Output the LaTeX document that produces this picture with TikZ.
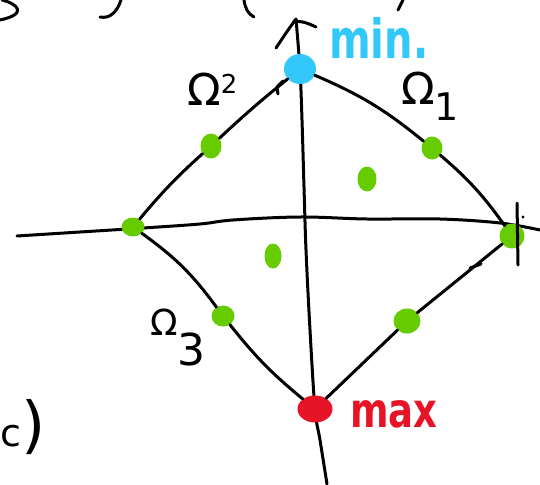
\documentclass[tikz,border=0pt]{standalone}
\usepackage{graphicx}
\usepackage{fontspec}
\setmainfont{DejaVu Sans}
\usetikzlibrary{shapes.geometric}
\definecolor{cyanmin}{RGB}{51,200,250}
\definecolor{dotgreen}{RGB}{102,204,0}
\definecolor{maxred}{RGB}{230,20,38}
\begin{document}
\begin{tikzpicture}[x=1pt,y=-1pt,line cap=round,line join=round,
  pen/.style={line width=3pt,draw=black},
  gdot/.style={ellipse,fill=dotgreen,inner sep=0pt},
  bdot/.style={ellipse,fill=cyanmin,inner sep=0pt},
  rdot/.style={ellipse,fill=maxred,inner sep=0pt},
  lbl/.style={anchor=base west,inner sep=0pt}]
\useasboundingbox (0,0) rectangle (540,484);
% axes
\coordinate (ytip) at (296,19);
\coordinate (ybot) at (327,484);
\coordinate (xl) at (17,236);
\coordinate (xr) at (540,230);
\draw[pen] plot[smooth,tension=0.6] coordinates {(xl) (80,232) (143,228) (200,224) (233,220) (300,217) (367,219) (440,219) (500,223) (xr)};
\draw[pen] plot[smooth,tension=0.6] coordinates {(ybot) (320,440) (315,409) (310,330) (306,250) (304,187) (302,120) (300,70) (ytip)};
\coordinate (wl) at (276,48);
\coordinate (wr) at (316,27);
\draw[pen] (ytip) .. controls (288,30) .. (wl);
\draw[pen] (294,21) .. controls (305,22) .. (wr);
% dots
\node[bdot,minimum width=32pt,minimum height=30pt] (T) at (300,69) {};
\node[gdot,minimum width=25pt,minimum height=25pt] (R) at (512,236) {};
\node[gdot,minimum width=23pt,minimum height=19pt] (L) at (133,227) {};
\node[rdot,minimum width=35pt,minimum height=27pt] (B) at (315,409) {};
\node[gdot,minimum width=21pt,minimum height=25pt] (d2) at (211,146) {};
\node[gdot,minimum width=21pt,minimum height=23pt] (d1) at (432,148) {};
\node[gdot,minimum width=23pt,minimum height=21pt] (d3) at (223,316) {};
\node[gdot,minimum width=27pt,minimum height=25pt] (d4) at (407,321) {};
\node[gdot,minimum width=19pt,minimum height=25pt] (c1) at (367,179) {};
\node[gdot,minimum width=17pt,minimum height=25pt] (c2) at (273,256) {};
% edges
\draw[pen] (T) to[bend left=8] (d1);
\draw[pen] (d1) to[bend left=7] (R);
\draw[pen] (T) to[bend right=2] (d2);
\draw[pen] (d2) to[bend right=4] (L);
\draw[pen] (L) to[bend left=9] (d3);
\draw[pen] (d3) to[bend right=6] (B);
\draw[pen] (B) -- (d4);
\draw[pen] (d4) -- (R);
% small marks
\draw[pen] (517,203) -- (518,265);
\fill (523,217) circle (1.6pt);
\draw[pen] (470,268) -- (481,264);
\draw[pen] (278,94) -- (277,87) -- (283,81);
% cropped strokes at top
\draw[pen] (2,0) .. controls (18,4) and (28,14) .. (0,20);
\draw[pen] (121,0) .. controls (117,12) and (110,19) .. (100,17);
\draw[pen] (244,0) .. controls (245,8) and (248,14) .. (254,17);
\draw[pen] (403,0) -- (398,10);
% labels
\node[lbl,text=cyanmin,font=\bfseries\fontsize{40}{40}\selectfont] (minl) at (329,59) {\scalebox{1}[1.35]{min.}};
\node[lbl,text=maxred,font=\bfseries\fontsize{37}{37}\selectfont] (maxl) at (350,427) {\scalebox{1}[1.3]{max}};
\node[lbl,font=\fontsize{44}{44}\selectfont] (om2) at (187,106) {Ω\raisebox{12pt}{\fontsize{26}{26}\selectfont 2}};
\node[lbl,font=\fontsize{44}{44}\selectfont] (om1) at (401,104) {Ω\raisebox{-17pt}{\fontsize{38}{38}\selectfont 1}};
\node[lbl,font=\fontsize{36}{36}\selectfont] (om3) at (150,335) {Ω\raisebox{-30pt}{\fontsize{44}{44}\selectfont 3}};
\node[lbl] (cl) at (0,446) {\fontsize{38}{38}\selectfont c\fontsize{62}{62}\selectfont )};
\end{tikzpicture}
\end{document}
